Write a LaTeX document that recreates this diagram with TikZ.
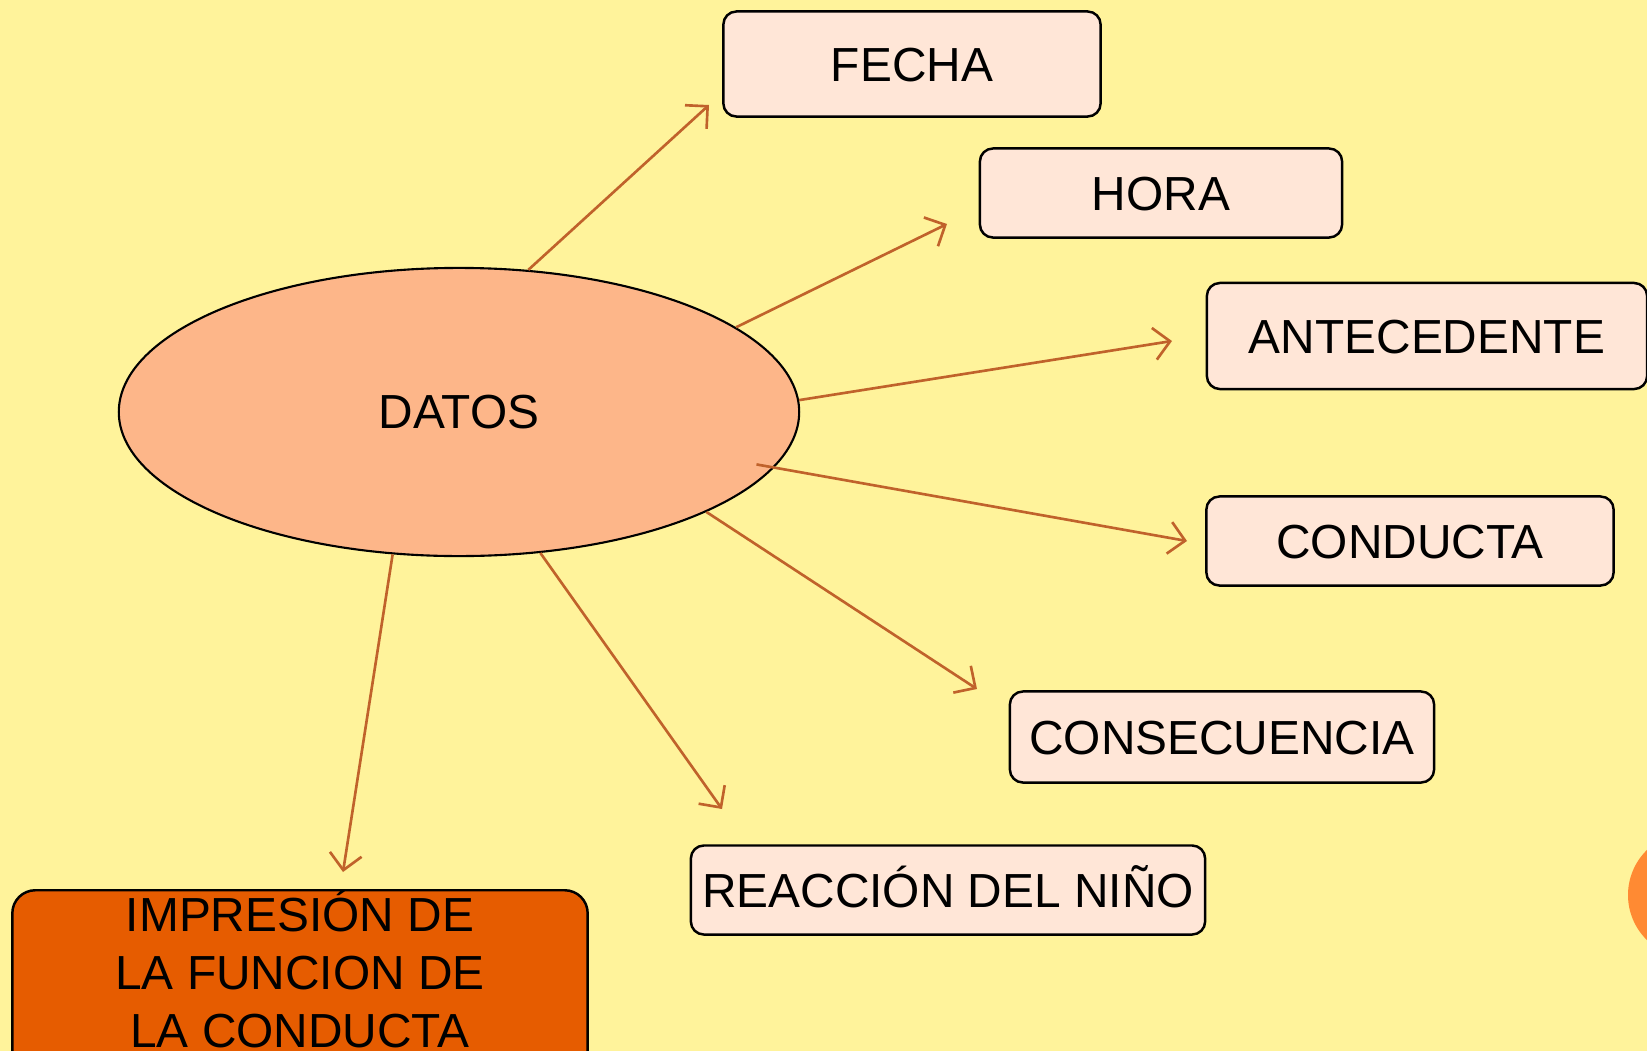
\documentclass[tikz,border=0pt]{standalone}
\usepackage{fontspec}
\setmainfont{Liberation Sans}
\usepackage{xcolor}
\definecolor{fondo}{HTML}{FFF39B}
\definecolor{elipseFill}{HTML}{FDB689}
\definecolor{cajaFill}{HTML}{FFE6D7}
\definecolor{impresionFill}{HTML}{E65C00}
\definecolor{flechaCol}{HTML}{C0622B}
\definecolor{adorno}{HTML}{FF8A33}
\usepackage{tikz}
\usetikzlibrary{shapes.geometric,arrows.meta,positioning}
\tikzset{
    centro/.style={
        draw=black,
        fill=elipseFill,
        ellipse,
        minimum width=6.8cm,
        minimum height=2.88cm,
        line width=0.6pt,
        font=\fontsize{13.6}{16.5}\selectfont
    },
    caja/.style={
        draw=black,
        fill=cajaFill,
        rectangle,
        rounded corners=1.3mm,
        minimum height=0.89cm,
        inner sep=0pt,
        text height=9.8pt,
        text depth=0pt,
        line width=0.7pt,
        font=\fontsize{13.6}{16.5}\selectfont
    },
    impresion/.style={
        draw=black,
        fill=impresionFill,
        rectangle,
        rounded corners=2.3mm,
        align=center,
        inner ysep=0pt,
        minimum width=5.75cm,
        text depth=0.5cm,
        line width=0.7pt,
        font=\fontsize{13.6}{16.5}\selectfont
    },
    flecha/.style={
        -{Straight Barb[length=1.6mm,width=3.2mm]},
        line width=0.75pt,
        draw=flechaCol
    }
}
\begin{document}
\begin{tikzpicture}[x=0.01cm, y=-0.01cm]
    \useasboundingbox (0,0) rectangle (1647,1051);
    \clip (0,0) rectangle (1647,1051);
    \fill[fondo] (0,0) rectangle (1647,1051);
    \fill[adorno] (1691,895) circle (63);

    \node[centro] (datos) at (459,412) {DATOS};
    \node[caja, minimum width=3.77cm, minimum height=1.05cm] (fecha) at (912,64) {FECHA};
    \node[caja, minimum width=3.62cm] (hora) at (1161,193) {HORA};
    \node[caja, minimum width=4.4cm, minimum height=1.06cm] (antecedente) at (1427,336) {ANTECEDENTE};
    \node[caja, minimum width=4.07cm] (conducta) at (1410,541) {CONDUCTA};
    \node[caja, minimum width=4.24cm, minimum height=0.91cm] (consecuencia) at (1222,737) {CONSECUENCIA};
    \node[caja, minimum width=5.14cm] (reaccion) at (948,890) {REACCIÓN DEL NIÑO};
    \node[impresion, anchor=north] (funcion) at (300,889) {IMPRESIÓN DE\\LA FUNCION DE\\LA CONDUCTA};

    % puntas libres de las flechas
    \coordinate (pFecha) at (709,105);
    \coordinate (pHora) at (947,224);
    \coordinate (pAntecedente) at (1172,341);
    \coordinate (pConducta) at (1187,541);
    \coordinate (pConsecuencia) at (977,689);
    \coordinate (pReaccion) at (722,809);
    \coordinate (pFuncion) at (343,872);

    \draw[flecha] (datos.64) -- (pFecha);
    \draw[flecha] (datos.17) -- (pHora);
    \draw[flecha] (datos.2) -- (pAntecedente);
    \draw[flecha, shorten <=-0.18cm] (datos.-10) -- (pConducta);
    \draw[flecha] (datos.-22) -- (pConsecuencia);
    \draw[flecha] (datos.-60) -- (pReaccion);
    \draw[flecha] (datos.-115) -- (pFuncion);
\end{tikzpicture}
\end{document}
